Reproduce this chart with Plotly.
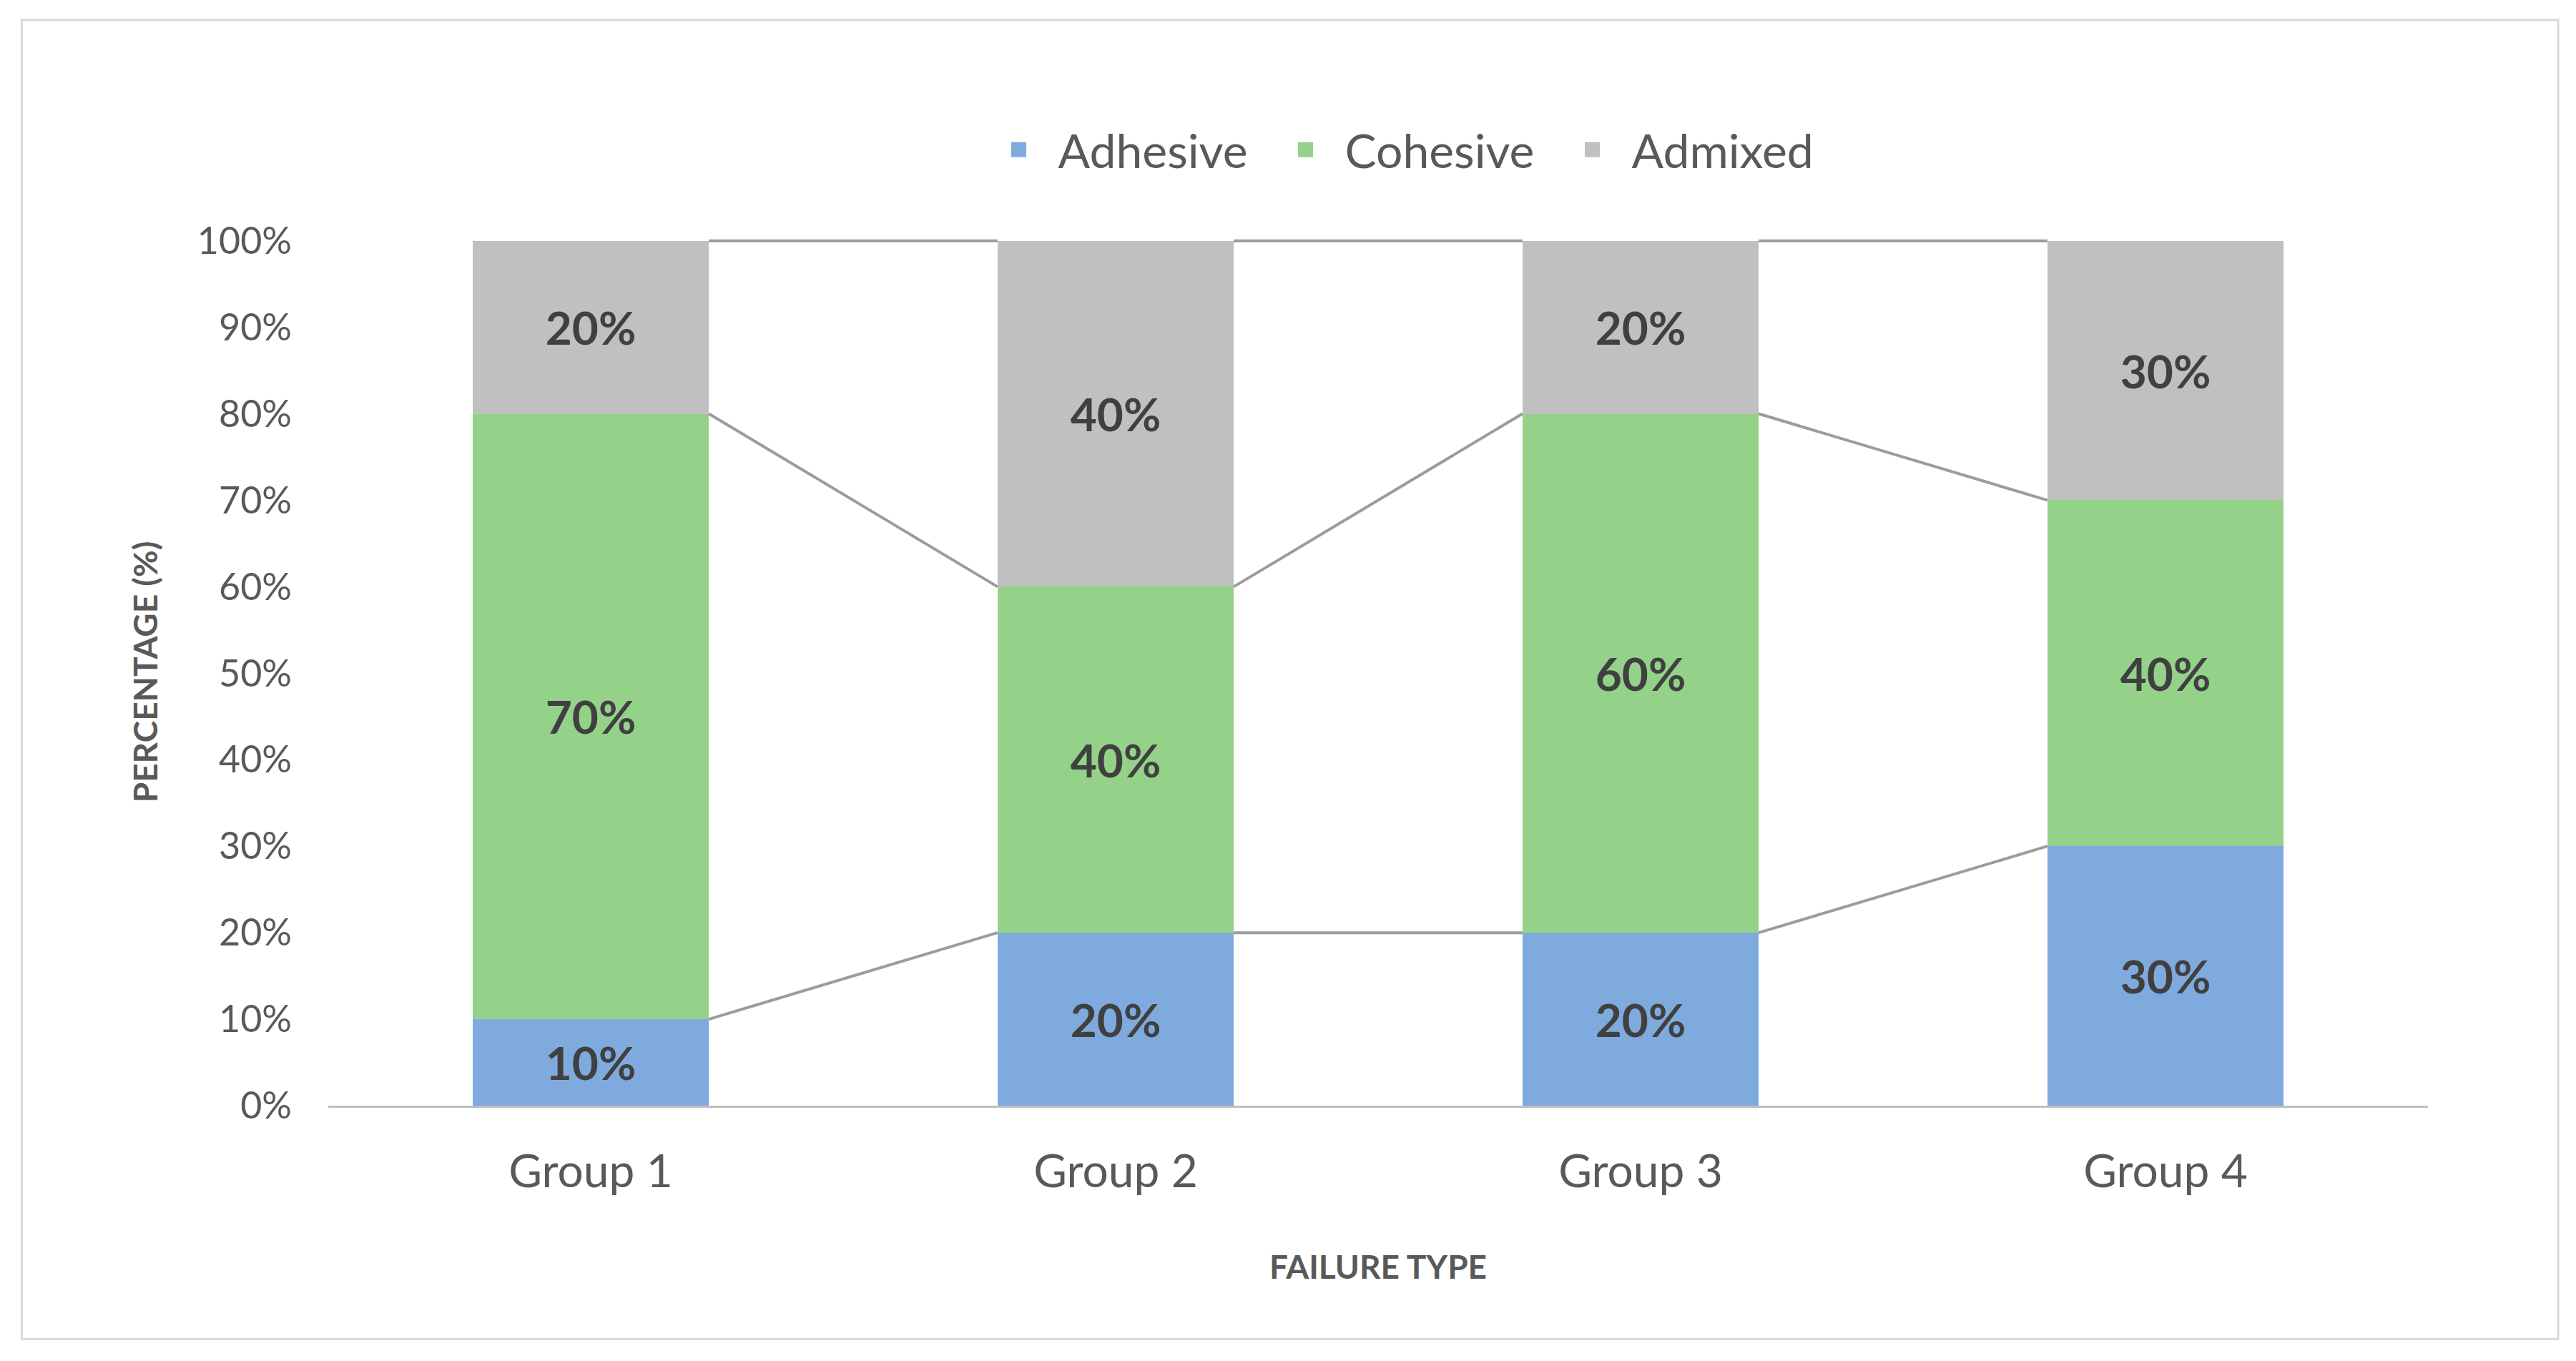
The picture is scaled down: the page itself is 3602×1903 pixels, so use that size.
import plotly.graph_objects as go

groups = ["Group 1", "Group 2", "Group 3", "Group 4"]
adhesive = [0.10, 0.20, 0.20, 0.30]
cohesive = [0.70, 0.40, 0.60, 0.40]
admixed = [0.20, 0.40, 0.20, 0.30]
y_ticks = [0, 0.1, 0.2, 0.3, 0.4, 0.5, 0.6, 0.7, 0.8, 0.9, 1.0]

colors = {"Adhesive": "#7FAADE", "Cohesive": "#94D28A", "Admixed": "#C0C0C0"}
BAR_W = 0.45
FONT = "Lato"

x = list(range(len(groups)))
fig = go.Figure()

series = [("Adhesive", adhesive), ("Cohesive", cohesive), ("Admixed", admixed)]
for name, vals in series:
    fig.add_trace(go.Bar(
        x=x, y=vals, name=name, width=BAR_W, showlegend=False,
        marker=dict(color=colors[name], line=dict(width=0)),
        text=[f"<b>{round(v*100)}%</b>" for v in vals],
        textposition="inside", insidetextanchor="middle",
        textfont=dict(family=FONT, size=64, color="#404040"),
        textangle=0,
    ))

# series lines connecting the top of each stacked segment between bars
cum = [0.0] * len(groups)
for name, vals in series:
    cum = [c + v for c, v in zip(cum, vals)]
    lx, ly = [], []
    for i in range(len(groups) - 1):
        lx += [x[i] + BAR_W / 2, x[i + 1] - BAR_W / 2, None]
        ly += [cum[i], cum[i + 1], None]
    fig.add_trace(go.Scatter(
        x=lx, y=ly, mode="lines", showlegend=False, hoverinfo="skip",
        line=dict(color="#9C9C9C", width=4),
    ))

# legend entries (square markers)
for name, _ in series:
    fig.add_trace(go.Scatter(
        x=[None], y=[None], mode="markers", name=name,
        marker=dict(symbol="square", size=16, color=colors[name],
                    line=dict(color=colors[name], width=5)),
    ))

fig.update_layout(
    width=3602, height=1903,
    plot_bgcolor="white", paper_bgcolor="white",
    barmode="stack",
    margin=dict(l=451, r=215, t=325, b=365),
    font=dict(family=FONT, color="#595959"),
    legend=dict(
        orientation="h", x=0.515, y=1.102, xanchor="center", yanchor="middle",
        font=dict(family=FONT, size=66, color="#595959"),
        traceorder="normal", itemsizing="trace", entrywidth=286, itemwidth=100,
    ),
    xaxis=dict(
        range=[-0.5, 3.5], tickvals=x, ticktext=groups,
        showline=True, linecolor="#BFBFBF", linewidth=3,
        showgrid=False, zeroline=False, ticks="",
        ticklabelstandoff=34,
        tickfont=dict(family=FONT, size=64, color="#595959"),
        title=dict(text="<b>FAILURE TYPE</b>", font=dict(family=FONT, size=46, color="#595959"), standoff=84),
    ),
    yaxis=dict(
        range=[0, 1.003], tickvals=y_ticks, tickformat=".0%",
        showline=False, showgrid=False, zeroline=False, ticks="",
        ticklabelstandoff=50,
        tickfont=dict(family=FONT, size=52, color="#595959"),
        title=dict(text="<b>PERCENTAGE (%)</b>", font=dict(family=FONT, size=46, color="#595959"), standoff=40),
    ),
    shapes=[dict(
        type="rect", xref="paper", yref="paper",
        x0=-0.146, x1=1.062, y0=-0.269, y1=1.2514,
        line=dict(color="#D9D9D9", width=3), fillcolor="rgba(0,0,0,0)", layer="below",
    )],
)

fig.write_html("out.html")
